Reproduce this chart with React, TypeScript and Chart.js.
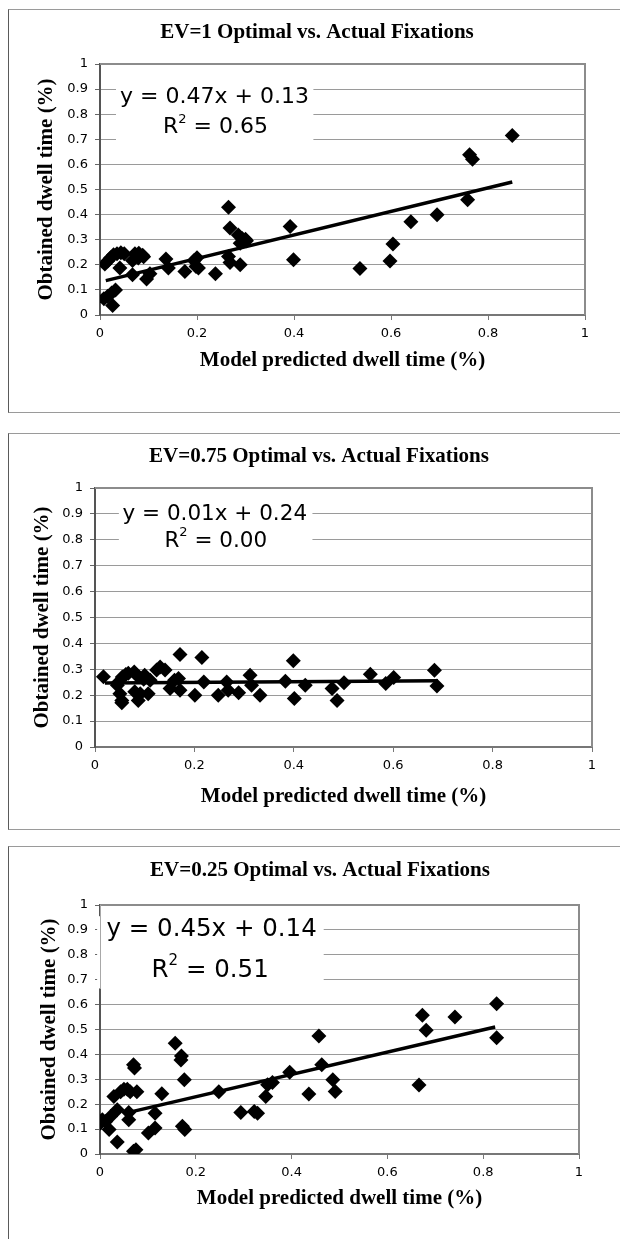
import React, { useEffect, useRef } from "react";
import { Chart, registerables } from "chart.js";

Chart.register(...registerables);

// ---------- Data ----------
const ev1X = [0.010, 0.016, 0.022, 0.028, 0.035, 0.043, 0.050, 0.041, 0.008, 0.016, 0.024, 0.032, 0.026, 0.072, 0.080, 0.088, 0.067, 0.079, 0.090, 0.067, 0.096, 0.103, 0.136, 0.141, 0.175, 0.194, 0.198, 0.203, 0.200, 0.238, 0.265, 0.268, 0.265, 0.268, 0.289, 0.285, 0.293, 0.300, 0.289, 0.302, 0.392, 0.399, 0.536, 0.598, 0.604, 0.641, 0.695, 0.758, 0.762, 0.768, 0.850];
const ev1Y = [0.203, 0.215, 0.228, 0.240, 0.244, 0.248, 0.244, 0.187, 0.065, 0.075, 0.088, 0.100, 0.038, 0.244, 0.246, 0.238, 0.217, 0.227, 0.232, 0.160, 0.143, 0.164, 0.223, 0.187, 0.173, 0.217, 0.193, 0.187, 0.228, 0.164, 0.429, 0.347, 0.233, 0.209, 0.200, 0.319, 0.305, 0.302, 0.286, 0.296, 0.353, 0.220, 0.185, 0.215, 0.283, 0.372, 0.399, 0.459, 0.638, 0.621, 0.715];
const ev1Trend = [0.012, 0.137, 0.850, 0.530];

const ev075X = [0.017, 0.047, 0.055, 0.062, 0.067, 0.050, 0.054, 0.054, 0.079, 0.084, 0.080, 0.087, 0.091, 0.100, 0.107, 0.111, 0.124, 0.131, 0.141, 0.151, 0.168, 0.171, 0.171, 0.201, 0.215, 0.219, 0.248, 0.265, 0.268, 0.289, 0.312, 0.315, 0.332, 0.383, 0.399, 0.401, 0.423, 0.477, 0.487, 0.501, 0.554, 0.585, 0.601, 0.683, 0.688, 0.045, 0.098, 0.160];
const ev075Y = [0.271, 0.250, 0.270, 0.280, 0.285, 0.206, 0.180, 0.171, 0.290, 0.277, 0.213, 0.180, 0.206, 0.277, 0.206, 0.258, 0.297, 0.309, 0.297, 0.226, 0.264, 0.357, 0.219, 0.200, 0.346, 0.251, 0.200, 0.251, 0.219, 0.209, 0.277, 0.238, 0.200, 0.254, 0.333, 0.187, 0.238, 0.226, 0.180, 0.248, 0.281, 0.245, 0.268, 0.296, 0.236, 0.238, 0.262, 0.258];
const ev075Trend = [0.020, 0.247, 0.690, 0.256];

const ev025X = [0.005, 0.012, 0.001, 0.019, 0.022, 0.029, 0.036, 0.036, 0.043, 0.050, 0.057, 0.063, 0.077, 0.060, 0.060, 0.070, 0.072, 0.070, 0.075, 0.101, 0.115, 0.115, 0.129, 0.157, 0.170, 0.169, 0.176, 0.172, 0.177, 0.248, 0.294, 0.322, 0.329, 0.346, 0.350, 0.360, 0.396, 0.436, 0.457, 0.463, 0.486, 0.491, 0.666, 0.673, 0.681, 0.741, 0.828, 0.828];
const ev025Y = [0.138, 0.131, 0.124, 0.098, 0.151, 0.231, 0.178, 0.048, 0.250, 0.260, 0.260, 0.250, 0.250, 0.167, 0.138, 0.358, 0.345, 0.011, 0.017, 0.084, 0.104, 0.164, 0.242, 0.445, 0.394, 0.378, 0.298, 0.111, 0.098, 0.250, 0.167, 0.171, 0.164, 0.231, 0.278, 0.287, 0.328, 0.241, 0.474, 0.358, 0.298, 0.251, 0.277, 0.557, 0.497, 0.550, 0.603, 0.467];
const ev025Trend = [0.060, 0.167, 0.825, 0.510];

const chartTitles = [
  "EV=1 Optimal vs. Actual Fixations",
  "EV=0.75 Optimal vs. Actual Fixations",
  "EV=0.25 Optimal vs. Actual Fixations",
];
const equations = ["y = 0.47x + 0.13", "y = 0.01x + 0.24", "y = 0.45x + 0.14"];
const r2Values = ["0.65", "0.00", "0.51"];
const xAxisTitle = "Model predicted dwell time (%)";
const yAxisTitle = "Obtained dwell time (%)";

// ---------- Layout ----------
type PanelCfg = {
  top: number; height: number; bottomBorder: boolean; canvasH: number;
  plotLeft: number; plotRight: number; plotTop: number; plotBottom: number;
  titleCX: number; titleCY: number; xTitleCY: number; yTitleCX: number;
  xs: number[]; ys: number[]; trend: number[];
  title: string; eq: string; r2: string;
  eqFont: number; eqPos: number[]; r2Pos: number[]; box: number[]; coverAxis: boolean;
};

const panels: PanelCfg[] = [
  {
    top: 9, height: 404, bottomBorder: true, canvasH: 402,
    plotLeft: 91, plotRight: 576, plotTop: 54, plotBottom: 305,
    titleCX: 308, titleCY: 23, xTitleCY: 351, yTitleCX: 38,
    xs: ev1X, ys: ev1Y, trend: ev1Trend, title: chartTitles[0], eq: equations[0], r2: r2Values[0],
    eqFont: 22, eqPos: [0.236, 0.866], r2Pos: [0.238, 0.746], box: [0.033, 0.44, 0.68, 0.935], coverAxis: false,
  },
  {
    top: 433, height: 397, bottomBorder: true, canvasH: 395,
    plotLeft: 86, plotRight: 583, plotTop: 54, plotBottom: 313,
    titleCX: 310, titleCY: 23, xTitleCY: 363, yTitleCX: 34,
    xs: ev075X, ys: ev075Y, trend: ev075Trend, title: chartTitles[1], eq: equations[1], r2: r2Values[1],
    eqFont: 21.5, eqPos: [0.241, 0.898], r2Pos: [0.243, 0.795], box: [0.048, 0.4375, 0.73, 0.935], coverAxis: false,
  },
  {
    top: 846, height: 393, bottomBorder: false, canvasH: 392,
    plotLeft: 91, plotRight: 570, plotTop: 58, plotBottom: 307,
    titleCX: 311, titleCY: 24, xTitleCY: 352, yTitleCX: 41,
    xs: ev025X, ys: ev025Y, trend: ev025Trend, title: chartTitles[2], eq: equations[2], r2: r2Values[2],
    eqFont: 24.5, eqPos: [0.233, 0.902], r2Pos: [0.23, 0.738], box: [-0.006, 0.467, 0.665, 0.955], coverAxis: true,
  },
];

const CANVAS_W = 611;
const LH = 25.2; // 21px * 1.2
const SERIF_BOLD = 'bold 21px "Liberation Serif"';

const fmtTick = (v: any) => {
  const n = Math.round(Number(v) * 10) / 10;
  return String(n);
};

const eqPlugin = {
  id: "eqBox",
  beforeDatasetsDraw(chart: any) {
    const cfg: PanelCfg = chart.options.plugins.eqBox.cfg;
    const { ctx, chartArea: ca } = chart;
    const x = chart.scales.x;
    const y = chart.scales.y;
    ctx.save();
    // top & right frame
    ctx.strokeStyle = "#8c8c8c";
    ctx.lineWidth = 2;
    ctx.beginPath();
    ctx.moveTo(ca.left, ca.top);
    ctx.lineTo(ca.right, ca.top);
    ctx.lineTo(ca.right, ca.bottom);
    ctx.stroke();
    // white box behind the equation
    const bx0 = x.getPixelForValue(cfg.box[0]);
    const bx1 = x.getPixelForValue(cfg.box[1]);
    const byTop = y.getPixelForValue(cfg.box[3]);
    const byBot = y.getPixelForValue(cfg.box[2]);
    ctx.fillStyle = "#ffffff";
    ctx.fillRect(bx0, byTop, bx1 - bx0, byBot - byTop);
    if (cfg.coverAxis) {
      ctx.strokeStyle = "#a8a8a8";
      ctx.lineWidth = 1;
      ctx.beginPath();
      ctx.moveTo(ca.left + 0.5, byBot);
      ctx.lineTo(ca.left + 0.5, ca.top);
      ctx.stroke();
    }
    // chart title
    ctx.fillStyle = "#000";
    ctx.font = SERIF_BOLD;
    ctx.textAlign = "center";
    ctx.textBaseline = "middle";
    ctx.fillText(cfg.title, cfg.titleCX, cfg.titleCY);
    // equation text
    ctx.font = `${cfg.eqFont}px "DejaVu Sans"`;
    ctx.fillText(cfg.eq, x.getPixelForValue(cfg.eqPos[0]), y.getPixelForValue(cfg.eqPos[1]));
    // R^2 line
    const supFont = `${Math.round(cfg.eqFont * 0.6)}px "DejaVu Sans"`;
    const mainFont = `${cfg.eqFont}px "DejaVu Sans"`;
    ctx.font = mainFont;
    const wR = ctx.measureText("R").width;
    const rest = " = " + cfg.r2;
    const wRest = ctx.measureText(rest).width;
    ctx.font = supFont;
    const w2 = ctx.measureText("2").width;
    const total = wR + w2 + wRest;
    const cx = x.getPixelForValue(cfg.r2Pos[0]);
    const cy = y.getPixelForValue(cfg.r2Pos[1]);
    let sx = cx - total / 2;
    ctx.textAlign = "left";
    ctx.font = mainFont;
    ctx.fillText("R", sx, cy);
    sx += wR;
    ctx.font = supFont;
    ctx.fillText("2", sx, cy - cfg.eqFont * 0.38);
    sx += w2;
    ctx.font = mainFont;
    ctx.fillText(rest, sx, cy);
    ctx.restore();
  },
};

function Panel({ cfg }: { cfg: PanelCfg }) {
  const ref = useRef<HTMLCanvasElement>(null);
  useEffect(() => {
    const points = cfg.xs.map((v, i) => ({ x: v, y: cfg.ys[i] }));
    const trendPts = [
      { x: cfg.trend[0], y: cfg.trend[1] },
      { x: cfg.trend[2], y: cfg.trend[3] },
    ];
    const tickFont = { family: "DejaVu Sans", size: 13 };
    const titleFont = { family: "Liberation Serif", size: 21, weight: "bold" as const, lineHeight: 1.2 };
    const chart = new Chart(ref.current!, {
      type: "scatter",
      data: {
        datasets: [
          {
            type: "line",
            data: trendPts,
            borderColor: "#000",
            borderWidth: 3.5,
            pointRadius: 0,
            fill: false,
            order: 0,
          } as any,
          {
            type: "scatter",
            data: points,
            pointStyle: "rectRot",
            pointRadius: 7.5,
            pointBackgroundColor: "#000",
            pointBorderWidth: 0,
            backgroundColor: "#000",
            borderColor: "#000",
            order: 1,
          } as any,
        ],
      },
      options: {
        animation: false,
        responsive: false,
        maintainAspectRatio: false,
        events: [],
        layout: { padding: { left: 0, right: CANVAS_W - cfg.plotRight, top: cfg.plotTop, bottom: 0 } },
        plugins: {
          legend: { display: false },
          tooltip: { enabled: false },
          title: { display: false },
          eqBox: { cfg },
        } as any,
        scales: {
          x: {
            type: "linear",
            min: 0,
            max: 1,
            ticks: { stepSize: 0.2, color: "#000", font: tickFont, padding: 6, maxRotation: 0, callback: fmtTick },
            grid: { drawOnChartArea: false, drawTicks: true, tickLength: 5, tickColor: "#777" },
            border: { display: true, color: "#777", width: 2 },
            title: {
              display: true,
              text: xAxisTitle,
              color: "#000",
              font: titleFont,
              padding: { top: 4, bottom: cfg.canvasH - cfg.xTitleCY - LH / 2 },
            },
            afterFit: (s: any) => { s.height = cfg.canvasH - cfg.plotBottom; },
          },
          y: {
            type: "linear",
            min: 0,
            max: 1,
            ticks: { stepSize: 0.1, color: "#000", font: tickFont, padding: 7, callback: fmtTick },
            grid: { color: "#9a9a9a", lineWidth: 1, drawTicks: true, tickLength: 5, tickColor: "#666" },
            border: { display: true, color: "#555", width: 2 },
            title: {
              display: true,
              text: yAxisTitle,
              color: "#000",
              font: titleFont,
              padding: { top: cfg.yTitleCX - LH / 2, bottom: 0 },
            },
            afterFit: (s: any) => { s.width = cfg.plotLeft; },
          },
        },
      } as any,
      plugins: [eqPlugin],
    });
    return () => chart.destroy();
  }, [cfg]);

  return (
    <div
      style={{
        position: "absolute",
        left: 8,
        top: cfg.top,
        width: 612,
        height: cfg.height,
        boxSizing: "border-box",
        borderTop: "1px solid #9a9a9a",
        borderLeft: "1px solid #5a5a5a",
        borderBottom: cfg.bottomBorder ? "1px solid #9a9a9a" : "none",
        background: "#fff",
      }}
    >
      <canvas
        ref={ref}
        width={CANVAS_W}
        height={cfg.canvasH}
        style={{ position: "absolute", left: 0, top: 0, width: CANVAS_W, height: cfg.canvasH }}
      />
    </div>
  );
}

export default function App() {
  useEffect(() => {
    document.body.style.overflow = "hidden";
  }, []);
  return (
    <div style={{ position: "absolute", left: 0, top: 0, width: 620, height: 1239, overflow: "hidden" }}>
      {panels.map((p, i) => (
        <Panel key={i} cfg={p} />
      ))}
    </div>
  );
}
